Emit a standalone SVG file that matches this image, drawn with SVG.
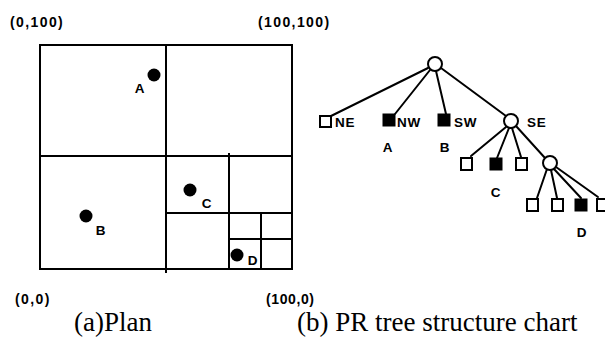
<svg xmlns="http://www.w3.org/2000/svg" width="605" height="343" viewBox="0 0 605 343">
<style>
.ln{stroke:#000;stroke-width:2;fill:none;stroke-linecap:square}
.tl{stroke:#000;stroke-width:2;fill:none;stroke-linecap:round}
.lb{font-family:"Liberation Sans",Arial,sans-serif;font-weight:bold;font-size:13.5px;letter-spacing:0.8px;fill:#000}
.co{font-family:"Liberation Sans",Arial,sans-serif;font-weight:bold;font-size:14px;letter-spacing:1.4px;fill:#000}
.cap{font-family:"Liberation Serif","Times New Roman",serif;font-size:27px;fill:#000}
.dot{fill:#000}
.open{fill:#fff;stroke:#000;stroke-width:2}
.full{fill:#000;stroke:#000;stroke-width:1}
</style>
<rect width="605" height="343" fill="#fff"/>
<g id="plan">
<rect class="ln" x="40" y="45" width="252" height="224"/>
<line class="ln" x1="166" y1="45" x2="166" y2="272"/>
<line class="ln" x1="40" y1="156" x2="292" y2="156"/>
<line class="ln" x1="229" y1="154" x2="229" y2="269"/>
<line class="ln" x1="166" y1="213" x2="292" y2="213"/>
<line class="ln" x1="261" y1="213" x2="261" y2="269"/>
<line class="ln" x1="229" y1="239" x2="292" y2="239"/>
<circle class="dot" cx="154" cy="75" r="6.5"/>
<circle class="dot" cx="86" cy="216" r="6.5"/>
<circle class="dot" cx="190" cy="190" r="6.5"/>
<circle class="dot" cx="237" cy="255" r="6.5"/>
<text class="lb" x="140" y="93" text-anchor="middle">A</text>
<text class="lb" x="101" y="235" text-anchor="middle">B</text>
<text class="lb" x="207" y="208" text-anchor="middle">C</text>
<text class="lb" x="253" y="265" text-anchor="middle">D</text>
<text class="co" x="10" y="27">(0,100)</text>
<text class="co" x="258" y="27">(100,100)</text>
<text class="co" x="15" y="304">(0,0)</text>
<text class="co" x="266" y="304" style="letter-spacing:0.6px">(100,0)</text>
</g>
<g id="connectors">
<line class="tl" x1="428" y1="68" x2="331" y2="116"/>
<line class="tl" x1="430" y1="70" x2="395" y2="114"/>
<line class="tl" x1="436" y1="71" x2="446" y2="114"/>
<line class="tl" x1="441" y1="68" x2="506" y2="116"/>
<line class="tl" x1="506" y1="127" x2="471" y2="156"/>
<line class="tl" x1="509" y1="128" x2="497" y2="158"/>
<line class="tl" x1="512" y1="128" x2="521" y2="157"/>
<line class="tl" x1="516" y1="126" x2="545" y2="158"/>
<line class="tl" x1="547" y1="169" x2="537" y2="198"/>
<line class="tl" x1="551" y1="170" x2="557" y2="198"/>
<line class="tl" x1="554" y1="169" x2="581" y2="198"/>
<line class="tl" x1="556" y1="167" x2="598" y2="197"/>
</g>
<g id="root"><circle class="open" cx="435" cy="64" r="7"/></g>
<g id="ne"><rect class="open" x="320" y="116" width="11" height="11"/><text class="lb" x="335" y="127">NE</text></g>
<g id="nw"><rect class="full" x="383" y="114" width="12" height="12"/><text class="lb" x="397" y="127">NW</text><text class="lb" x="388" y="152" text-anchor="middle">A</text></g>
<g id="sw"><rect class="full" x="438" y="114" width="12" height="12"/><text class="lb" x="454" y="127">SW</text><text class="lb" x="445" y="152" text-anchor="middle">B</text></g>
<g id="se"><circle class="open" cx="511" cy="121" r="7"/><text class="lb" x="527" y="127">SE</text></g>
<g id="se-ne"><rect class="open" x="461" y="158" width="11" height="12"/></g>
<g id="se-nw"><rect class="full" x="490" y="158" width="12" height="12"/><text class="lb" x="496" y="197" text-anchor="middle">C</text></g>
<g id="se-sw"><rect class="open" x="516" y="158" width="11" height="12"/></g>
<g id="se-se"><circle class="open" cx="550" cy="163" r="7"/></g>
<g id="se-se-ne"><rect class="open" x="527" y="199" width="11" height="12"/></g>
<g id="se-se-nw"><rect class="open" x="552" y="199" width="11" height="12"/></g>
<g id="se-se-sw"><rect class="full" x="575" y="199" width="12" height="12"/><text class="lb" x="582" y="237" text-anchor="middle">D</text></g>
<g id="se-se-se"><rect class="open" x="597" y="199" width="11" height="12"/></g>
<g id="captions">
<text class="cap" x="74" y="331">(a)Plan</text>
<text class="cap" x="297" y="331">(b) PR tree structure chart</text>
</g>
</svg>
